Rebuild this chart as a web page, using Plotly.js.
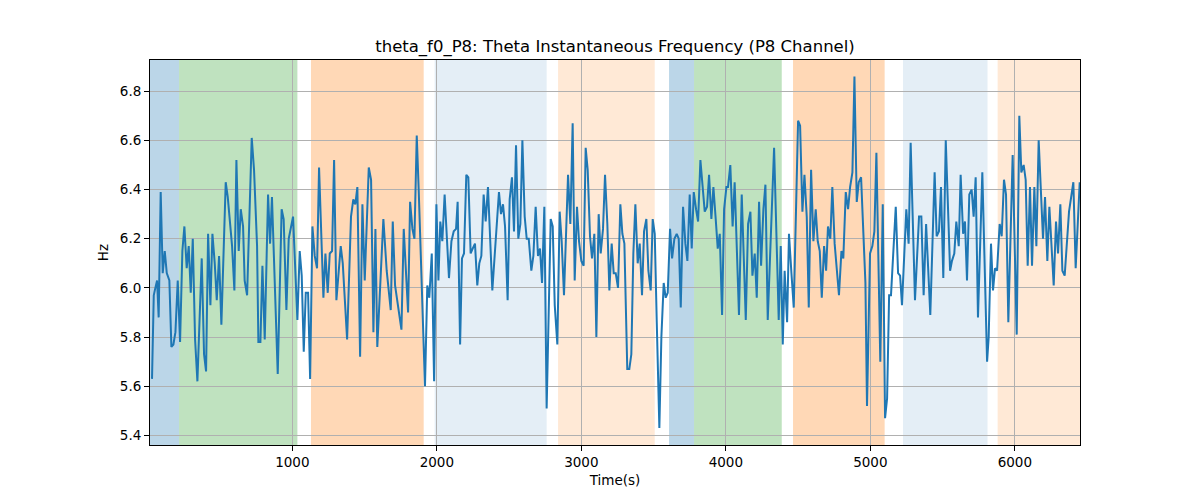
<!DOCTYPE html>
<html>
<head>
<meta charset="utf-8">
<script src="https://cdn.plot.ly/plotly-3.0.1.min.js"></script>
<style>html,body{margin:0;padding:0;background:#fff;}#chart{width:1200px;height:500px;}</style>
</head>
<body>
<div id="chart"></div>
<script>
// ---- data ----
var time1 = [29,41,52,64,75,89,103,117,131,149,163,177,191,207,223,239,253,269,283,297,311,327,343,373,389,403,417,433,447,463,477,493,509,539,553,569,583,599,613,629,643,659,670,687,719,735,756,765,779,793,809];
var hz1 = [5.63,5.97,6.00,6.03,5.88,6.39,6.06,6.15,6.06,6.03,5.76,5.77,5.82,6.03,5.78,6.15,6.25,6.08,6.17,5.98,6.20,5.79,5.62,6.12,5.73,5.66,6.22,5.93,6.22,6.10,5.95,6.13,5.85,6.43,6.37,6.25,6.17,5.99,6.52,6.15,6.32,6.25,6.03,5.97,6.61,6.48,6.17,5.78,5.78,6.09,5.79];
var time2 = [832,846,859,899,926,940,959,975,1005,1035,1051,1065,1079,1093,1109,1123,1139,1155,1171,1185,1215,1229,1245,1259,1275,1289,1305,1335,1349,1379,1406,1422,1436,1450,1469,1485,1501,1529,1545,1561,1575,1588,1630,1653];
var hz2 = [6.38,6.18,6.37,5.65,6.32,6.28,5.91,6.20,6.29,5.87,6.15,6.05,5.74,5.98,5.98,5.63,6.25,6.13,6.08,6.49,5.96,6.14,5.98,6.14,6.15,6.52,5.95,6.17,6.10,5.79,6.29,6.36,6.34,6.41,5.72,6.34,6.03,6.49,6.44,5.82,6.24,5.76,6.28,6.07];
var time3 = [1681,1695,1711,1755,1771,1801,1815,1831,1845,1861,1875,1918,1934,1948,1965,1981,1997,2011,2024,2038,2054,2084,2101,2117,2133,2144,2161,2174,2188,2204,2218,2234,2248,2264,2280,2294,2308,2324,2338,2354,2384,2430,2444,2458,2472,2490];
var hz3 = [5.91,6.27,6.01,5.83,6.24,5.90,6.35,6.24,6.20,6.62,6.39,5.60,6.01,5.96,6.14,5.62,6.34,6.03,6.27,6.19,6.38,6.04,6.19,6.23,6.24,6.35,5.77,6.12,6.14,6.46,6.45,6.14,6.16,6.18,6.01,6.10,6.13,6.38,6.27,6.41,5.99,6.39,6.30,6.34,6.25,5.95];
var time4 = [2504,2520,2534,2548,2564,2578,2592,2608,2622,2636,2654,2668,2684,2700,2714,2728,2744,2760,2788,2802,2816,2834,2850,2864,2880,2908,2924,2940,2954,2970,2984,3000,3016,3030,3044,3060,3074,3090,3104,3120,3134,3150,3164,3180,3194,3210,3224,3238,3254,3270,3284,3298,3318];
var hz4 = [6.36,6.45,6.23,6.58,6.20,6.26,6.60,6.29,6.20,6.20,6.07,6.13,6.33,6.13,6.16,6.02,6.33,5.51,6.28,6.25,5.93,5.77,6.31,6.19,5.97,6.46,6.26,6.67,6.03,6.33,6.19,6.11,6.09,6.57,6.48,6.21,6.12,6.22,5.80,6.30,6.14,6.24,6.46,6.26,5.99,6.18,6.06,6.06,6.00,6.34,6.22,6.18,5.67];
var time5 = [3332,3346,3360,3374,3390,3404,3420,3434,3450,3464,3480,3494,3508,3522,3540,3554,3570,3584,3598,3614,3628,3644,3660,3674,3688,3704,3720,3734,3750,3764,3778,3794,3808,3824,3840,3854,3870,3884,3900,3914,3930,3944,3958,3974,3988,4004,4015,4031,4047,4061,4091,4110,4138,4154];
var hz5 = [5.67,5.73,6.14,6.34,6.10,6.18,5.97,6.23,6.28,6.07,5.99,6.28,6.22,5.86,5.43,5.80,6.02,5.96,5.98,6.24,6.12,6.20,6.22,6.20,5.92,6.33,6.18,6.11,6.38,6.16,6.39,6.32,6.27,6.52,6.40,6.31,6.33,6.46,6.28,6.41,6.28,6.16,6.22,5.89,6.32,6.41,6.41,6.50,6.25,6.43,5.89,6.38,5.87,6.26];
var time6 = [4170,4184,4200,4214,4230,4244,4260,4274,4290,4334,4366,4380,4394,4407,4424,4437,4454,4470,4500,4514,4530,4544,4560,4574,4590,4606,4622,4636,4650,4664,4680,4694,4707,4723,4737,4753,4783,4800,4813,4830,4846,4860,4876,4890,4906,4920,4936,4966,4977];
var hz6 = [6.31,6.05,6.14,5.96,6.35,6.09,6.32,6.42,5.87,6.57,5.87,6.17,5.77,6.07,5.86,6.22,6.06,5.92,6.68,6.66,6.31,6.46,6.29,5.92,6.48,6.19,6.32,6.19,6.15,5.96,6.17,6.07,6.25,6.20,6.41,6.18,5.97,6.15,6.12,6.39,6.32,6.41,6.47,6.86,6.35,6.43,6.45,6.02,5.52];
var time7 = [4998,5014,5028,5042,5069,5086,5102,5116,5130,5143,5176,5192,5206,5219,5249,5265,5279,5309,5337,5353,5369,5386,5415,5445,5459,5475,5489,5505,5522,5552,5565,5581,5595,5612,5625,5642,5655,5669,5685,5701,5715,5729,5745,5775,5808];
var hz7 = [6.14,6.17,6.23,6.55,5.70,6.34,5.47,5.55,5.97,5.97,6.33,6.06,6.05,5.93,6.32,6.18,6.59,5.95,6.29,6.29,5.97,6.26,5.89,6.47,6.21,6.23,6.41,6.04,6.60,6.07,6.11,6.14,6.27,6.17,6.46,6.22,6.27,6.03,6.38,6.40,6.29,6.45,5.88,6.47,5.70];
var time8 = [5819,5835,5849,5863,5877,5895,5909,5925,5939,5955,5985,6013,6031,6045,6061,6075,6089,6105,6119,6135,6149,6165,6195,6209,6225,6239,6269,6285,6299,6315,6329,6345,6375,6405,6421,6449];
var hz8 = [5.80,6.18,5.99,6.08,6.07,6.26,6.21,6.44,6.38,5.86,6.54,5.81,6.70,6.47,6.50,6.44,6.09,6.41,6.09,6.41,6.17,6.60,6.20,6.37,6.11,6.33,6.01,6.27,6.14,6.34,6.07,6.05,6.31,6.43,6.08,6.43];

// shaded segments (time range and kind)
var bandStart = [15,216,1129,1985,2839,3607,3780,4465,5226,5881];
var bandEnd   = [216,1035,1909,2760,3508,3780,4387,5099,5811,6451];
var bandKind  = ['blue','green','orange','lightblue','lightorange','blue','green','orange','lightblue','lightorange'];

var xTicks = [1000,2000,3000,4000,5000,6000];
var yTicks = [5.4,5.6,5.8,6.0,6.2,6.4,6.6,6.8];

// ---- build ----
var times = [].concat(time1,time2,time3,time4,time5,time6,time7,time8);
var hz = [].concat(hz1,hz2,hz3,hz4,hz5,hz6,hz7,hz8);

var kindColor = {
  blue: 'rgba(31,119,180,0.3)',
  green: 'rgba(44,160,44,0.3)',
  orange: 'rgba(255,127,14,0.3)',
  lightblue: 'rgba(31,119,180,0.12)',
  lightorange: 'rgba(255,127,14,0.17)'
};

var shapes = bandStart.map(function(s, i){
  return {type:'rect', xref:'x', yref:'paper', x0:s, x1:bandEnd[i], y0:0, y1:1,
          fillcolor:kindColor[bandKind[i]], line:{width:0}, layer:'below'};
});

var font = 'DejaVu Sans, Liberation Sans, sans-serif';

var trace = {x:times, y:hz, type:'scatter', mode:'lines',
  line:{color:'#1f77b4', width:2}, hoverinfo:'skip', showlegend:false};

var layout = {
  width:1200, height:500,
  margin:{l:150, r:120, t:60, b:55},
  paper_bgcolor:'#ffffff', plot_bgcolor:'#ffffff',
  font:{family:font, size:13.5, color:'#000'},
  title:{text:'theta_f0_P8: Theta Instantaneous Frequency (P8 Channel)', font:{family:font, size:16.5, color:'#000'},
         x:0.5125, xanchor:'center', xref:'container', y:0.908, yanchor:'middle', yref:'container'},
  xaxis:{range:[15,6451], tickvals:xTicks, ticktext:xTicks.map(String), ticks:'outside', ticklen:5, tickwidth:1, tickcolor:'#000',
         showline:true, linecolor:'#000', linewidth:1, mirror:true, showgrid:true, gridcolor:'#b0b0b0', gridwidth:1,
         zeroline:false, title:{text:'Time(s)', font:{family:font, size:13.5}, standoff:6}, automargin:false},
  yaxis:{range:[5.361,6.927], tickvals:yTicks, ticktext:yTicks.map(function(v){return v.toFixed(1);}), ticks:'outside', ticklen:5, tickwidth:1, tickcolor:'#000',
         showline:true, linecolor:'#000', linewidth:1, mirror:true, showgrid:true, gridcolor:'#b0b0b0', gridwidth:1,
         zeroline:false, title:{text:'Hz', font:{family:font, size:13.5}, standoff:8}, automargin:false},
  shapes:shapes
};

Plotly.newPlot('chart', [trace], layout, {displayModeBar:false, staticPlot:true});
</script>
</body>
</html>
